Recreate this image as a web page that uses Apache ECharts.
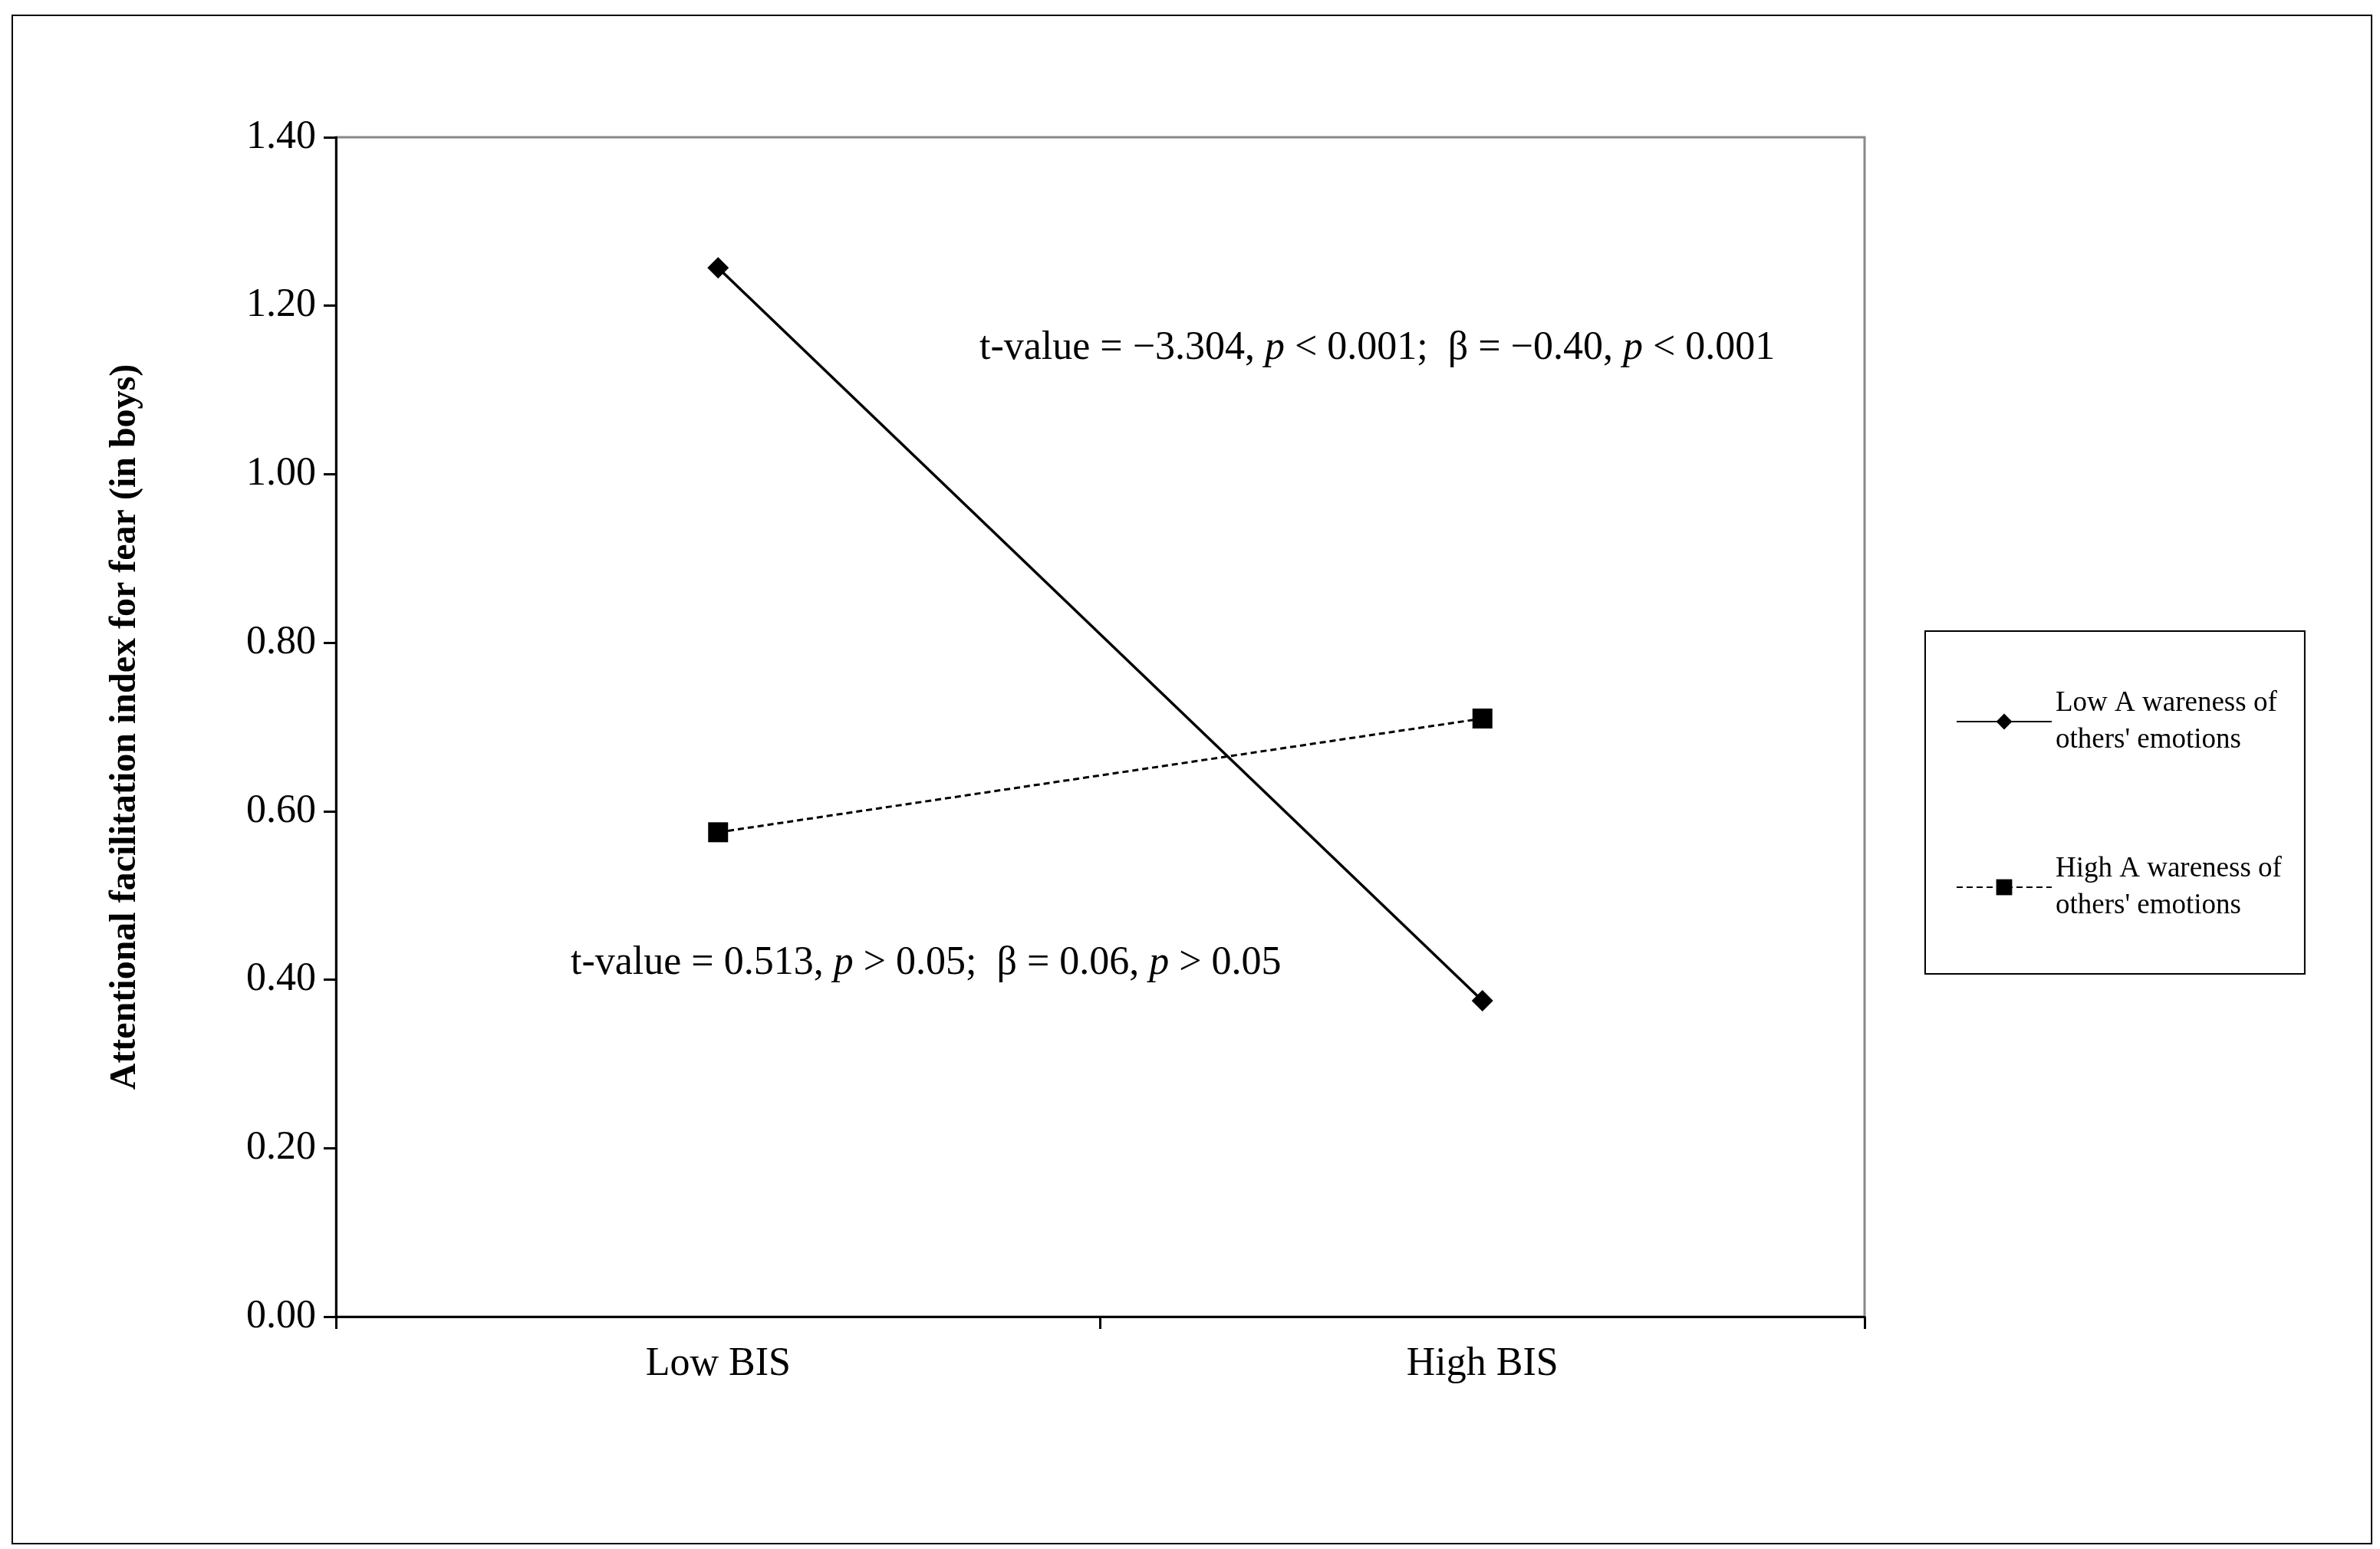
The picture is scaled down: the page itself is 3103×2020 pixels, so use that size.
<!DOCTYPE html>
<html>
<head>
<meta charset="utf-8">
<script src="https://cdn.jsdelivr.net/npm/echarts@6/dist/echarts.min.js"></script>
<style>
html, body { margin: 0; padding: 0; background: #fff; }
#chart { width: 3103px; height: 2020px; }
</style>
</head>
<body>
<div id="chart"></div>
<script>
const categories = ['Low BIS', 'High BIS']
const lowAwareness = [1.245, 0.375]
const highAwareness = [0.575, 0.71]
const yTicks = { min: 0, max: 1.4, interval: 0.2 }

const serif = 'Liberation Serif'
const myChart = echarts.init(document.querySelector('#chart'))

myChart.setOption({
    backgroundColor: '#fff',
    textStyle: { fontFamily: serif, color: '#000' },
    grid: {
        left: 438, right: 672, top: 179, bottom: 303,
        show: true, borderColor: '#888', borderWidth: 3
    },
    xAxis: {
        type: 'category',
        data: categories,
        boundaryGap: true,
        axisLine: { lineStyle: { color: '#000', width: 3 } },
        axisTick: { show: true, length: 16, lineStyle: { color: '#000', width: 3 } },
        axisLabel: { fontSize: 52, fontFamily: serif, color: '#000', margin: 36 }
    },
    yAxis: {
        type: 'value',
        min: yTicks.min, max: yTicks.max, interval: yTicks.interval,
        name: 'Attentional facilitation index for fear (in boys)',
        nameLocation: 'middle',
        nameGap: 250,
        nameTextStyle: { fontSize: 48, fontWeight: 'bold', fontFamily: serif, color: '#000' },
        splitLine: { show: false },
        axisLine: { show: true, lineStyle: { color: '#000', width: 3 } },
        axisTick: { show: true, length: 16, lineStyle: { color: '#000', width: 3 } },
        axisLabel: {
            fontSize: 52, fontFamily: serif, color: '#000', margin: 26,
            formatter: v => v.toFixed(2)
        }
    },
    legend: {
        orient: 'vertical',
        left: 2510, top: 823,
        padding: [70, 30, 65, 40],
        itemGap: 120,
        itemWidth: 124, itemHeight: 26,
        borderColor: '#000', borderWidth: 2,
        textStyle: { fontSize: 37, fontFamily: serif, color: '#000', lineHeight: 48 },
        formatter: name => name === 'Low Awareness' ? 'Low A wareness of\nothers\' emotions' : 'High A wareness of\nothers\' emotions',
        data: ['Low Awareness', 'High Awareness']
    },
    series: [
        {
            name: 'Low Awareness',
            type: 'line',
            data: lowAwareness,
            symbol: 'diamond',
            symbolSize: 28,
            itemStyle: { color: '#000' },
            lineStyle: { color: '#000', width: 3.5, type: 'solid' }
        },
        {
            name: 'High Awareness',
            type: 'line',
            data: highAwareness,
            symbol: 'rect',
            symbolSize: 26,
            itemStyle: { color: '#000' },
            lineStyle: { color: '#000', width: 3, type: [8, 5] }
        }
    ],
    graphic: [
        {
            type: 'rect',
            shape: { x: 16, y: 20, width: 3076, height: 1993 },
            style: { fill: 'none', stroke: '#000', lineWidth: 2 },
            silent: true
        },
        {
            type: 'text', left: 1277, top: 428,
            style: {
                text: 't-value = \u22123.304, {i|p} < 0.001;  \u03b2 = \u22120.40, {i|p} < 0.001',
                font: '52px "Liberation Serif"', fill: '#000',
                rich: { i: { fontStyle: 'italic', fontSize: 52, fontFamily: serif } }
            }
        },
        {
            type: 'text', left: 744, top: 1230,
            style: {
                text: 't-value = 0.513, {i|p} > 0.05;  \u03b2 = 0.06, {i|p} > 0.05',
                font: '52px "Liberation Serif"', fill: '#000',
                rich: { i: { fontStyle: 'italic', fontSize: 52, fontFamily: serif } }
            }
        }
    ]
})
</script>
</body>
</html>
